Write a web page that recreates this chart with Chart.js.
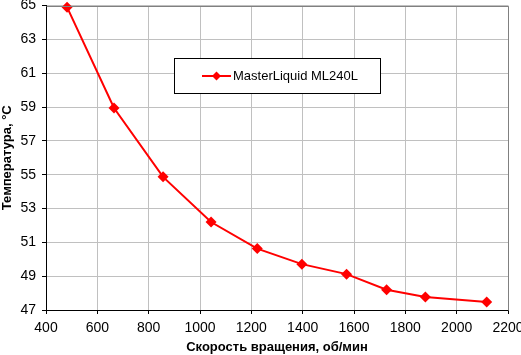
<!DOCTYPE html>
<html>
<head>
<meta charset="utf-8">
<script src="https://cdn.jsdelivr.net/npm/chart.js@4"></script>
<style>
html,body{margin:0;padding:0;background:#fff;}
#wrap{width:521px;height:355px;position:relative;}
</style>
</head>
<body>
<div id="wrap"><canvas id="c" width="521" height="355"></canvas></div>
<script>
const seriesLabel = "MasterLiquid ML240L";
const xTitle = "Скорость вращения, об/мин";
const yTitle = "Температура, °С";
const speeds = [482, 665, 856, 1043, 1223, 1397, 1571, 1727, 1878, 2117];
const temps = [64.9, 58.94, 54.87, 52.2, 50.63, 49.71, 49.12, 48.2, 47.77, 47.48];

const FONT = "'Liberation Sans', Arial, sans-serif";
const TICKFONT = "'Liberation Sans Narrow', 'Liberation Sans', Arial, sans-serif";

const legendPlugin = {
  id: 'boxLegend',
  afterDraw(chart) {
    const ctx = chart.ctx;
    const x0 = 174.5, y0 = 58.5, w = 206, h = 35;
    ctx.save();
    ctx.fillStyle = '#fff';
    ctx.fillRect(x0, y0, w, h);
    ctx.strokeStyle = '#000';
    ctx.lineWidth = 1;
    ctx.strokeRect(x0, y0, w, h);
    const cy = y0 + h / 2;
    ctx.strokeStyle = '#ff0000';
    ctx.lineWidth = 2;
    ctx.beginPath();
    ctx.moveTo(202, cy); ctx.lineTo(231, cy); ctx.stroke();
    ctx.fillStyle = '#ff0000';
    ctx.beginPath();
    ctx.moveTo(216.5, cy - 4.5); ctx.lineTo(221, cy); ctx.lineTo(216.5, cy + 4.5); ctx.lineTo(212, cy);
    ctx.closePath(); ctx.fill();
    ctx.fillStyle = '#000';
    ctx.font = '13px ' + FONT;
    ctx.textBaseline = 'middle';
    ctx.fillText(seriesLabel, 233, cy + 0.5);
    ctx.restore();
  }
};

const borderPlugin = {
  id: 'frame',
  afterDatasetsDraw(chart) {
    const a = chart.chartArea, ctx = chart.ctx;
    ctx.save();
    ctx.lineWidth = 1;
    ctx.strokeStyle = '#808080';
    ctx.beginPath();
    ctx.moveTo(Math.round(a.left) + 0.5, Math.round(a.top) + 0.5);
    ctx.lineTo(Math.round(a.right) + 0.5, Math.round(a.top) + 0.5);
    ctx.lineTo(Math.round(a.right) + 0.5, Math.round(a.bottom) + 0.5);
    ctx.stroke();
    ctx.restore();
  }
};

new Chart(document.getElementById('c'), {
  type: 'line',
  data: {
    datasets: [{
      label: seriesLabel,
      data: speeds.map((s, i) => ({x: s, y: temps[i]})),
      borderColor: '#ff0000',
      backgroundColor: '#ff0000',
      borderWidth: 2,
      pointStyle: 'rectRot',
      pointRadius: 5.5,
      pointBorderWidth: 0,
      tension: 0,
      clip: false
    }]
  },
  options: {
    responsive: false,
    animation: false,
    devicePixelRatio: 1,
    layout: { padding: 0 },
    plugins: { legend: { display: false }, tooltip: { enabled: false } },
    scales: {
      x: {
        type: 'linear', min: 400, max: 2200,
        ticks: { stepSize: 200, color: '#000', font: { family: TICKFONT, size: 14 }, padding: 6, maxRotation: 0, autoSkip: false,
                 callback: v => String(v) },
        grid: { color: '#c0c0c0', tickColor: '#000', tickLength: 4, lineWidth: 1 },
        border: { color: '#000', width: 1 },
        title: { display: true, text: xTitle, color: '#000', font: { family: FONT, size: 13, weight: 'bold' }, padding: { top: 0, bottom: 0 } },
        afterFit(s) { s.height = 45; s.paddingLeft = 0; s.paddingRight = 13; }
      },
      y: {
        type: 'linear', min: 47, max: 65,
        ticks: { stepSize: 2, color: '#000', font: { family: TICKFONT, size: 14 }, padding: 6, callback: v => String(v) },
        grid: { color: '#c0c0c0', tickColor: '#000', tickLength: 4, lineWidth: 1 },
        border: { color: '#000', width: 1 },
        title: { display: true, text: yTitle, color: '#000', font: { family: FONT, size: 13, weight: 'bold' }, padding: { top: 0, bottom: 0 } },
        afterFit(s) { s.width = 46; s.paddingTop = 5; s.paddingBottom = 0; }
      }
    }
  },
  plugins: [borderPlugin, legendPlugin]
});
</script>
</body>
</html>
